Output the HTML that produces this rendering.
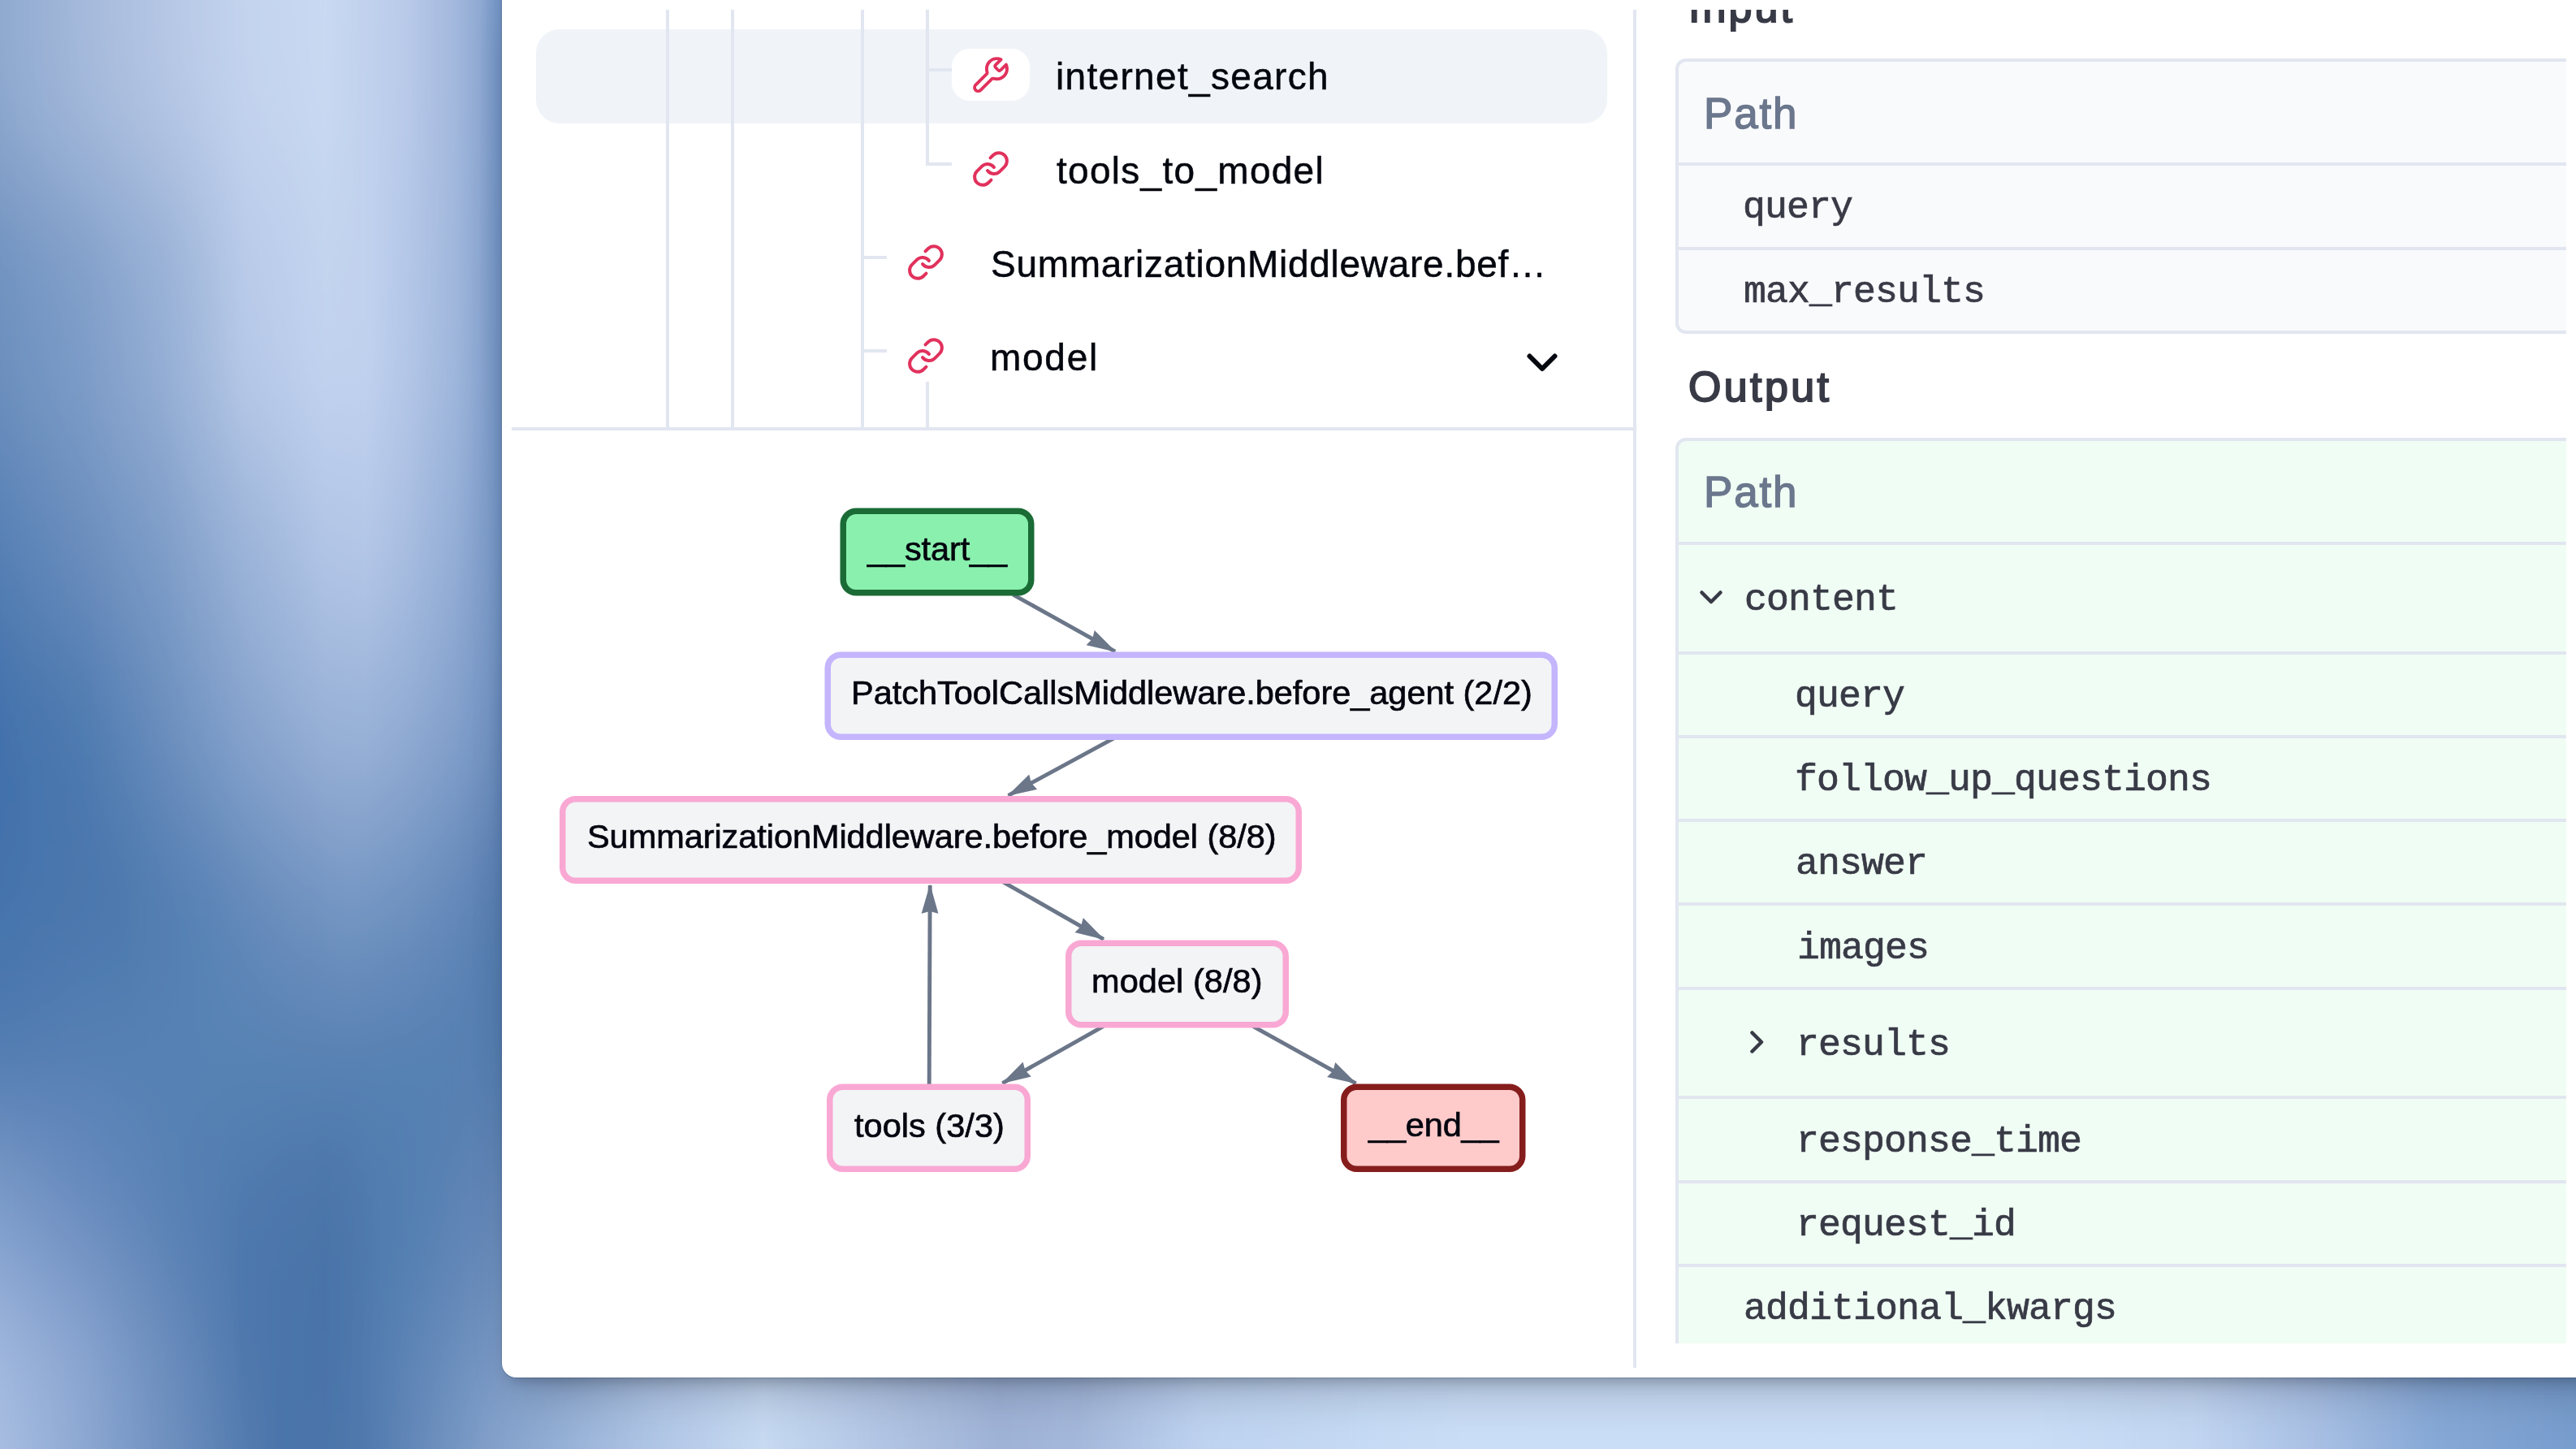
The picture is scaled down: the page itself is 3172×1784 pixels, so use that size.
<!DOCTYPE html><html><head><meta charset="utf-8"><title>LangSmith trace</title><style>
*{margin:0;padding:0;box-sizing:border-box}
html,body{width:3172px;height:1784px;overflow:hidden;background:#7f9dc8}
body{position:relative;font-family:"Liberation Sans",sans-serif}
.bg{position:absolute;left:0;top:0}
.win{position:absolute;left:618px;top:-40px;width:2700px;height:1736px;background:#fff;border-radius:18px;box-shadow:0 0 0 1px rgba(0,20,50,.16),0 40px 56px -28px rgba(0,8,20,.25),0 13px 18px -10px rgba(0,8,20,.26)}
.abs{position:absolute}
.ln{position:absolute;background:#E2E6F0}
.t{position:absolute;white-space:pre;line-height:1;will-change:transform}
.tree{font-size:46px;color:#05070f;-webkit-text-stroke:0.5px #05070f}
.mono{font-family:"Liberation Mono",monospace;font-size:46.5px;color:#383a46;-webkit-text-stroke:0.7px #383a46}
.h{font-size:52px;color:#383a46;-webkit-text-stroke:2px #383a46}
.path{font-size:53px;color:#6b778d;-webkit-text-stroke:1.4px #6b778d}
.tbl{position:absolute;left:2063px;width:1097px;border:4px solid #E2E6F0;border-right:0;border-radius:13px 0 0 13px;overflow:hidden}
.row{border-top:4px solid #E2E6F0}
</style></head><body>
<svg class="bg" width="3172" height="1784" viewBox="0 0 3172 1784">
<defs><linearGradient id="wg0" gradientUnits="userSpaceOnUse" x1="0" y1="0" x2="3172" y2="0"><stop offset="0.0000" stop-color="#8FA9CF"/><stop offset="0.0315" stop-color="#A4B9DB"/><stop offset="0.0631" stop-color="#B5C6E4"/><stop offset="0.0946" stop-color="#C3D3EE"/><stop offset="0.1261" stop-color="#C9D9F2"/><stop offset="0.1576" stop-color="#B9CAE9"/><stop offset="0.1765" stop-color="#A3B8DD"/><stop offset="0.1860" stop-color="#90AAD3"/><stop offset="0.1923" stop-color="#7797C6"/><stop offset="0.1961" stop-color="#6E8FBF"/></linearGradient><linearGradient id="wg1" gradientUnits="userSpaceOnUse" x1="0" y1="0" x2="3172" y2="0"><stop offset="0.0000" stop-color="#8FA9CF"/><stop offset="0.0315" stop-color="#A4B9DB"/><stop offset="0.0631" stop-color="#B5C6E4"/><stop offset="0.0946" stop-color="#C3D3EE"/><stop offset="0.1261" stop-color="#C9D9F2"/><stop offset="0.1576" stop-color="#B9CAE9"/><stop offset="0.1765" stop-color="#A3B8DD"/><stop offset="0.1860" stop-color="#90AAD3"/><stop offset="0.1923" stop-color="#7797C6"/><stop offset="0.1961" stop-color="#6E8FBF"/></linearGradient><linearGradient id="wg2" gradientUnits="userSpaceOnUse" x1="0" y1="0" x2="3172" y2="0"><stop offset="0.0000" stop-color="#6E91BF"/><stop offset="0.0315" stop-color="#7E9DC8"/><stop offset="0.0631" stop-color="#96AFD5"/><stop offset="0.0788" stop-color="#A6BCDE"/><stop offset="0.0946" stop-color="#B7C9E8"/><stop offset="0.1261" stop-color="#C2D3EF"/><stop offset="0.1419" stop-color="#C1D2EE"/><stop offset="0.1576" stop-color="#B4C7E8"/><stop offset="0.1765" stop-color="#A0B7DC"/><stop offset="0.1860" stop-color="#8CA7D1"/><stop offset="0.1923" stop-color="#7595C4"/><stop offset="0.1961" stop-color="#6C8DBD"/></linearGradient><linearGradient id="wg3" gradientUnits="userSpaceOnUse" x1="0" y1="0" x2="3172" y2="0"><stop offset="0.0000" stop-color="#5781B5"/><stop offset="0.0315" stop-color="#6A8DBD"/><stop offset="0.0631" stop-color="#7E9DC8"/><stop offset="0.0946" stop-color="#9BB3D8"/><stop offset="0.1261" stop-color="#B1C5E6"/><stop offset="0.1419" stop-color="#B4C7E8"/><stop offset="0.1576" stop-color="#A9BEE1"/><stop offset="0.1765" stop-color="#94AED6"/><stop offset="0.1892" stop-color="#7E9CC9"/><stop offset="0.1961" stop-color="#6B8CBC"/></linearGradient><linearGradient id="wg4" gradientUnits="userSpaceOnUse" x1="0" y1="0" x2="3172" y2="0"><stop offset="0.0000" stop-color="#4170AA"/><stop offset="0.0315" stop-color="#4D7AB0"/><stop offset="0.0631" stop-color="#6A8EBD"/><stop offset="0.0946" stop-color="#86A3CD"/><stop offset="0.1261" stop-color="#99B1D7"/><stop offset="0.1419" stop-color="#9AB2D8"/><stop offset="0.1576" stop-color="#92ACD4"/><stop offset="0.1765" stop-color="#84A1CC"/><stop offset="0.1892" stop-color="#7595C3"/><stop offset="0.1961" stop-color="#6185B7"/></linearGradient><linearGradient id="wg5" gradientUnits="userSpaceOnUse" x1="0" y1="0" x2="3172" y2="0"><stop offset="0.0000" stop-color="#4472AB"/><stop offset="0.0473" stop-color="#4B77AD"/><stop offset="0.0788" stop-color="#5882B5"/><stop offset="0.1103" stop-color="#6C8FBE"/><stop offset="0.1356" stop-color="#7697C4"/><stop offset="0.1576" stop-color="#6F92C0"/><stop offset="0.1765" stop-color="#6388B9"/><stop offset="0.1961" stop-color="#5279AD"/></linearGradient><linearGradient id="wg6" gradientUnits="userSpaceOnUse" x1="0" y1="0" x2="3172" y2="0"><stop offset="0.0000" stop-color="#4F7AB0"/><stop offset="0.0315" stop-color="#5580B4"/><stop offset="0.0946" stop-color="#5783B4"/><stop offset="0.1576" stop-color="#5580B2"/><stop offset="0.1828" stop-color="#557FB1"/><stop offset="0.1961" stop-color="#4F78AA"/></linearGradient><linearGradient id="wg7" gradientUnits="userSpaceOnUse" x1="0" y1="0" x2="3172" y2="0"><stop offset="0.0000" stop-color="#7E9DCB"/><stop offset="0.0315" stop-color="#6B8DC0"/><stop offset="0.0631" stop-color="#5A82B5"/><stop offset="0.0946" stop-color="#4E78AD"/><stop offset="0.1261" stop-color="#4A73A8"/><stop offset="0.1576" stop-color="#527EB0"/><stop offset="0.1961" stop-color="#6688B8"/><stop offset="0.2837" stop-color="#9DB6DA"/><stop offset="0.4098" stop-color="#93AAD0"/><stop offset="0.5359" stop-color="#C0D5F0"/><stop offset="0.8512" stop-color="#BBD0EE"/><stop offset="0.9458" stop-color="#86A8D6"/><stop offset="1.0000" stop-color="#779DCE"/></linearGradient><linearGradient id="wg8" gradientUnits="userSpaceOnUse" x1="0" y1="0" x2="3172" y2="0"><stop offset="0.0000" stop-color="#A3BADF"/><stop offset="0.0315" stop-color="#8FA9D3"/><stop offset="0.0631" stop-color="#6F90BF"/><stop offset="0.0946" stop-color="#4E77AC"/><stop offset="0.1261" stop-color="#4872A8"/><stop offset="0.1576" stop-color="#5C84B5"/><stop offset="0.1892" stop-color="#7495C2"/><stop offset="0.2522" stop-color="#AFC5E5"/><stop offset="0.2963" stop-color="#C7DAF2"/><stop offset="0.3468" stop-color="#B0C3E2"/><stop offset="0.3878" stop-color="#9FB3D7"/><stop offset="0.4193" stop-color="#A4B8DB"/><stop offset="0.4666" stop-color="#BED3F0"/><stop offset="0.5675" stop-color="#CADEF7"/><stop offset="0.7881" stop-color="#CADEF7"/><stop offset="0.8512" stop-color="#C2D6F2"/><stop offset="0.8985" stop-color="#A9C0E4"/><stop offset="0.9458" stop-color="#86A8D6"/><stop offset="1.0000" stop-color="#779DCE"/></linearGradient><linearGradient id="wg9" gradientUnits="userSpaceOnUse" x1="0" y1="0" x2="3172" y2="0"><stop offset="0.0000" stop-color="#A9BFE2"/><stop offset="0.0473" stop-color="#7F9DCA"/><stop offset="0.1103" stop-color="#4A74A9"/><stop offset="0.1419" stop-color="#5078AD"/><stop offset="0.1892" stop-color="#86A3CC"/><stop offset="0.2522" stop-color="#AFC5E5"/><stop offset="0.2963" stop-color="#C7DAF2"/><stop offset="0.3468" stop-color="#B0C3E2"/><stop offset="0.3878" stop-color="#9FB3D7"/><stop offset="0.4193" stop-color="#A4B8DB"/><stop offset="0.4666" stop-color="#BED3F0"/><stop offset="0.5675" stop-color="#CADEF7"/><stop offset="0.7881" stop-color="#CADEF7"/><stop offset="0.8512" stop-color="#C2D6F2"/><stop offset="0.8985" stop-color="#A9C0E4"/><stop offset="0.9458" stop-color="#86A8D6"/><stop offset="1.0000" stop-color="#779DCE"/></linearGradient><linearGradient id="wg10" gradientUnits="userSpaceOnUse" x1="0" y1="0" x2="3172" y2="0"><stop offset="0.0000" stop-color="#A9BFE2"/><stop offset="0.0473" stop-color="#7F9DCA"/><stop offset="0.1103" stop-color="#4A74A9"/><stop offset="0.1419" stop-color="#5078AD"/><stop offset="0.1892" stop-color="#86A3CC"/><stop offset="0.2522" stop-color="#AFC5E5"/><stop offset="0.2963" stop-color="#C7DAF2"/><stop offset="0.3468" stop-color="#B0C3E2"/><stop offset="0.3878" stop-color="#9FB3D7"/><stop offset="0.4193" stop-color="#A4B8DB"/><stop offset="0.4666" stop-color="#BED3F0"/><stop offset="0.5675" stop-color="#CADEF7"/><stop offset="0.7881" stop-color="#CADEF7"/><stop offset="0.8512" stop-color="#C2D6F2"/><stop offset="0.8985" stop-color="#A9C0E4"/><stop offset="0.9458" stop-color="#86A8D6"/><stop offset="1.0000" stop-color="#779DCE"/></linearGradient><filter id="vb" x="-5%" y="-20%" width="110%" height="140%"><feGaussianBlur stdDeviation="0 90"/></filter></defs>
<g filter="url(#vb)"><rect x="-50" y="-300.0" width="3272" height="201.0" fill="url(#wg0)"/><rect x="-50" y="-100.0" width="3272" height="326.0" fill="url(#wg1)"/><rect x="-50" y="225.0" width="3272" height="331.0" fill="url(#wg2)"/><rect x="-50" y="555.0" width="3272" height="226.0" fill="url(#wg3)"/><rect x="-50" y="780.0" width="3272" height="221.0" fill="url(#wg4)"/><rect x="-50" y="1000.0" width="3272" height="201.0" fill="url(#wg5)"/><rect x="-50" y="1200.0" width="3272" height="201.0" fill="url(#wg6)"/><rect x="-50" y="1400.0" width="3272" height="201.0" fill="url(#wg7)"/><rect x="-50" y="1600.0" width="3272" height="143.0" fill="url(#wg8)"/><rect x="-50" y="1742.0" width="3272" height="143.0" fill="url(#wg9)"/><rect x="-50" y="1884.0" width="3272" height="201.0" fill="url(#wg10)"/></g></svg>
<div class="win"></div>
<div class="abs" id="app" style="left:618px;top:0;width:2554px;height:1696px;overflow:hidden"><div class="abs" style="left:-618px;top:0;width:3172px;height:1696px">
<div class="abs" style="left:660px;top:36px;width:1319px;height:116px;border-radius:29px;background:#F0F4F9"></div>
<div class="ln" style="left:820px;top:12px;width:4px;height:516px"></div>
<div class="ln" style="left:900px;top:12px;width:4px;height:516px"></div>
<div class="ln" style="left:1060px;top:12px;width:4px;height:516px"></div>
<div class="ln" style="left:1140px;top:12px;width:4px;height:192px"></div>
<div class="ln" style="left:1140px;top:470px;width:4px;height:58px"></div>
<div class="ln" style="left:1144px;top:84px;width:28px;height:4px"></div>
<div class="ln" style="left:1140px;top:200px;width:32px;height:4px"></div>
<div class="ln" style="left:1064px;top:315px;width:28px;height:4px"></div>
<div class="ln" style="left:1064px;top:430px;width:28px;height:4px"></div>
<div class="ln" style="left:630px;top:526px;width:1385px;height:4px"></div>
<div class="ln" style="left:2011px;top:12px;width:4px;height:1672px"></div>
<div class="abs" style="left:1172px;top:60px;width:96px;height:64px;border-radius:22px;background:#fff"></div>
<svg class="abs" style="left:1194.0px;top:68.0px" width="50.2" height="50.2" viewBox="0 0 24 24" fill="none" stroke="#E1315C" stroke-width="1.85" stroke-linecap="round" stroke-linejoin="round"><path d="M15.6314 7.63137C15.2353 7.23535 15.0373 7.03735 14.9631 6.80902C14.8979 6.60817 14.8979 6.39183 14.9631 6.19098C15.0373 5.96265 15.2353 5.76465 15.6314 5.36863L18.4697 2.53026C17.7165 2.18962 16.8804 2 16 2C12.6863 2 10 4.68629 10 8C10 8.49104 10.059 8.9683 10.1702 9.42509C10.2894 9.91424 10.349 10.1588 10.3384 10.3133C10.3273 10.4751 10.3032 10.5612 10.2286 10.7051C10.1574 10.8426 10.0208 10.9791 9.7478 11.2522L3.5 17.5C2.67157 18.3284 2.67157 19.6716 3.5 20.5C4.32843 21.3284 5.67157 21.3284 6.5 20.5L12.7478 14.2522C13.0209 13.9791 13.1574 13.8426 13.2949 13.7714C13.4388 13.6968 13.5249 13.6727 13.6867 13.6616C13.8412 13.651 14.0858 13.7106 14.5749 13.8298C15.0317 13.941 15.509 14 16 14C19.3137 14 22 11.3137 22 8C22 7.11959 21.8104 6.28347 21.4697 5.53026L18.6314 8.36863C18.2353 8.76465 18.0373 8.96265 17.809 9.03684C17.6082 9.1021 17.3918 9.1021 17.191 9.03684C16.9627 8.96265 16.7647 8.76465 16.3686 8.36863L15.6314 7.63137Z"/></svg>
<svg class="abs" style="left:1196.0px;top:184.0px" width="48" height="48" viewBox="0 0 24 24" fill="none" stroke="#E1315C" stroke-width="2" stroke-linecap="round" stroke-linejoin="round"><path d="M10 13a5 5 0 0 0 7.54.54l3-3a5 5 0 0 0-7.07-7.07l-1.72 1.71"/><path d="M14 11a5 5 0 0 0-7.54-.54l-3 3a5 5 0 0 0 7.07 7.07l1.71-1.71"/></svg>
<svg class="abs" style="left:1116.0px;top:299.0px" width="48" height="48" viewBox="0 0 24 24" fill="none" stroke="#E1315C" stroke-width="2" stroke-linecap="round" stroke-linejoin="round"><path d="M10 13a5 5 0 0 0 7.54.54l3-3a5 5 0 0 0-7.07-7.07l-1.72 1.71"/><path d="M14 11a5 5 0 0 0-7.54-.54l-3 3a5 5 0 0 0 7.07 7.07l1.71-1.71"/></svg>
<svg class="abs" style="left:1116.0px;top:414.0px" width="48" height="48" viewBox="0 0 24 24" fill="none" stroke="#E1315C" stroke-width="2" stroke-linecap="round" stroke-linejoin="round"><path d="M10 13a5 5 0 0 0 7.54.54l3-3a5 5 0 0 0-7.07-7.07l-1.72 1.71"/><path d="M14 11a5 5 0 0 0-7.54-.54l-3 3a5 5 0 0 0 7.07 7.07l1.71-1.71"/></svg>
<svg class="abs" style="left:1870px;top:420px" width="60" height="52" viewBox="0 0 60 52" fill="none" stroke="#05070f" stroke-width="6" stroke-linecap="round" stroke-linejoin="round"><path d="M13.5 18.5 L29 34 L44.5 18.5"/></svg>
<div class="tbl" style="top:72px;background:#F9FAFC"><div style="height:124px"></div><div class="row" style="height:104px"></div><div class="row" style="height:103px"></div></div>
<div class="abs" style="left:2063px;top:535px;width:1109px;height:1119px;overflow:hidden">
<div class="tbl" style="left:0;top:4px;background:#F0FDF4"><div style="height:124px"></div><div class="row" style="height:135px"></div><div class="row" style="height:103px"></div><div class="row" style="height:103px"></div><div class="row" style="height:103px"></div><div class="row" style="height:104px"></div><div class="row" style="height:134px"></div><div class="row" style="height:104px"></div><div class="row" style="height:103px"></div><div class="row" style="height:144px"></div></div></div>
<svg class="abs" style="left:2087px;top:715px" width="40" height="40" viewBox="0 0 40 40" fill="none" stroke="#383a46" stroke-width="4.5" stroke-linecap="round" stroke-linejoin="round"><path d="M8.5 14.5 L20 26 L31.5 14.5"/></svg>
<svg class="abs" style="left:2143px;top:1263px" width="40" height="40" viewBox="0 0 40 40" fill="none" stroke="#383a46" stroke-width="4.5" stroke-linecap="round" stroke-linejoin="round"><path d="M14.5 8.5 L26 20 L14.5 31.5"/></svg>
<svg class="abs" style="left:0;top:0" width="3172" height="1696" viewBox="0 0 3172 1696"><line x1="1247.51" y1="732.05" x2="1373.09" y2="802.07" stroke="#6B7689" stroke-width="4.9"/><polygon points="1374.40,802.80 1337.63,794.21 1345.14,786.49 1347.76,776.04" fill="#6B7689"/><line x1="1371.62" y1="908.90" x2="1241.62" y2="979.29" stroke="#6B7689" stroke-width="4.9"/><polygon points="1240.30,980.00 1267.27,953.57 1269.76,964.05 1277.17,971.86" fill="#6B7689"/><line x1="1235.52" y1="1086.02" x2="1358.90" y2="1156.26" stroke="#6B7689" stroke-width="4.9"/><polygon points="1360.20,1157.00 1323.51,1148.08 1331.09,1140.43 1333.80,1130.00" fill="#6B7689"/><line x1="1358.89" y1="1263.44" x2="1234.41" y2="1333.56" stroke="#6B7689" stroke-width="4.9"/><polygon points="1233.10,1334.30 1259.62,1307.42 1262.29,1317.86 1269.83,1325.54" fill="#6B7689"/><line x1="1542.70" y1="1263.46" x2="1669.59" y2="1333.87" stroke="#6B7689" stroke-width="4.9"/><polygon points="1670.90,1334.60 1634.11,1326.08 1641.61,1318.34 1644.21,1307.89" fill="#6B7689"/><line x1="1144.18" y1="1338.50" x2="1145.19" y2="1090.00" stroke="#6B7689" stroke-width="4.9"/><polygon points="1145.20,1088.50 1155.45,1124.84 1145.06,1122.00 1134.65,1124.76" fill="#6B7689"/><rect x="1038.25" y="629.25" width="231.5" height="100.5" rx="16" ry="16" fill="#8AF0AE" stroke="#1A6B35" stroke-width="7.5"/><rect x="1019.25" y="806.25" width="895.0" height="101.0" rx="16" ry="16" fill="#F3F4F6" stroke="#C4B5FD" stroke-width="7.5"/><rect x="692.75" y="983.75" width="906.5" height="100.5" rx="16" ry="16" fill="#F3F4F6" stroke="#F9A8D4" stroke-width="7.5"/><rect x="1315.75" y="1161.25" width="267.5" height="100.5" rx="16" ry="16" fill="#F3F4F6" stroke="#F9A8D4" stroke-width="7.5"/><rect x="1021.75" y="1338.25" width="243.5" height="101.0" rx="16" ry="16" fill="#F3F4F6" stroke="#F9A8D4" stroke-width="7.5"/><rect x="1654.75" y="1338.25" width="220.0" height="101.0" rx="16" ry="16" fill="#FECACA" stroke="#861D1D" stroke-width="7.5"/></svg>
<span id="t1" class="t tree" style="left:1300.00px;top:70.56px;letter-spacing:1.322px;">internet_search</span>
<span id="t2" class="t tree" style="left:1301.00px;top:186.56px;letter-spacing:1.287px;">tools_to_model</span>
<span id="t3" class="t tree" style="left:1220.00px;top:301.56px;letter-spacing:0.714px;">SummarizationMiddleware.bef…</span>
<span id="t4" class="t tree" style="left:1219.00px;top:416.56px;letter-spacing:1.733px;">model</span>
<span id="h1" class="t h" style="left:2078.50px;top:-16.52px;letter-spacing:3.073px;">Input</span>
<span id="h2" class="t h" style="left:2079.00px;top:449.73px;letter-spacing:3.369px;">Output</span>
<span id="p1" class="t path" style="left:2098.00px;top:112.64px;letter-spacing:1.816px;">Path</span>
<span id="p2" class="t path" style="left:2098.00px;top:578.89px;letter-spacing:1.816px;">Path</span>
<span id="m1" class="t mono" style="left:2146.00px;top:233.11px;letter-spacing:-0.905px;">query</span>
<span id="m2" class="t mono" style="left:2147.00px;top:337.36px;letter-spacing:-0.905px;">max_results</span>
<span id="m3" class="t mono" style="left:2148.00px;top:716.36px;letter-spacing:-0.905px;">content</span>
<span id="m4" class="t mono" style="left:2210.00px;top:834.86px;letter-spacing:-0.905px;">query</span>
<span id="m5" class="t mono" style="left:2210.00px;top:938.11px;letter-spacing:-0.905px;">follow_up_questions</span>
<span id="m6" class="t mono" style="left:2211.00px;top:1041.36px;letter-spacing:-0.905px;">answer</span>
<span id="m7" class="t mono" style="left:2213.00px;top:1144.86px;letter-spacing:-0.905px;">images</span>
<span id="m8" class="t mono" style="left:2212.00px;top:1263.86px;letter-spacing:-0.905px;">results</span>
<span id="m9" class="t mono" style="left:2212.00px;top:1383.11px;letter-spacing:-0.905px;">response_time</span>
<span id="m10" class="t mono" style="left:2212.00px;top:1485.86px;letter-spacing:-0.905px;">request_id</span>
<span id="m11" class="t mono" style="left:2147.00px;top:1589.36px;letter-spacing:-0.905px;">additional_kwargs</span>
<span id="g1" class="t graph" style="left:1068.00px;top:654.87px;letter-spacing:-0.119px;font-size:41.5px;color:#04060f;-webkit-text-stroke:0.7px #04060f;">__start__</span>
<span id="g2" class="t graph" style="left:1047.50px;top:832.37px;letter-spacing:-0.021px;font-size:41.5px;color:#04060f;-webkit-text-stroke:0.7px #04060f;">PatchToolCallsMiddleware.before_agent (2/2)</span>
<span id="g3" class="t graph" style="left:722.75px;top:1009.37px;letter-spacing:-0.063px;font-size:41.5px;color:#04060f;-webkit-text-stroke:0.7px #04060f;">SummarizationMiddleware.before_model (8/8)</span>
<span id="g4" class="t graph" style="left:1344.25px;top:1187.37px;letter-spacing:0.068px;font-size:41.5px;color:#04060f;-webkit-text-stroke:0.7px #04060f;">model (8/8)</span>
<span id="g5" class="t graph" style="left:1052.00px;top:1364.87px;letter-spacing:0.030px;font-size:41.5px;color:#04060f;-webkit-text-stroke:0.7px #04060f;">tools (3/3)</span>
<span id="g6" class="t graph" style="left:1684.75px;top:1364.37px;letter-spacing:-0.164px;font-size:41.5px;color:#04060f;-webkit-text-stroke:0.7px #04060f;">__end__</span>
<div class="abs" style="left:2020px;top:0;width:1152px;height:12px;background:#fff"></div>
</div></div>
</body></html>
